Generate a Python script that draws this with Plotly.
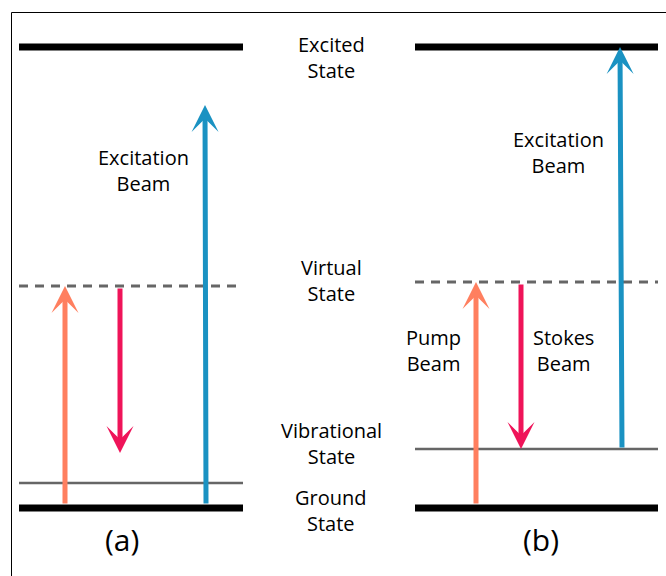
import plotly.graph_objects as go

# ---- data (pixel-like coordinate system: x 0..666, y 0..576 with y up) ----
panels = ["(a)", "(b)"]
panel_x0 = [19, 415]
panel_x1 = [243, 658]
ground_y = [68, 68]
vib_y = [93, 127]
virtual_y = [290, 294]
excited_y = [529, 529]

pump_x = [65, 476]
stokes_x = [120, 521]
stokes_tip_y = [123, 127]
exc_x_tail = [206, 622]
exc_x_tip = [205, 620]
exc_tip_y = [471, 529]

level_labels = ["Excited<br>State", "Virtual<br>State", "Vibrational<br>State", "Ground<br>State"]
level_label_y = [519, 296, 133, 66]

beam_texts = ["Excitation<br>Beam", "Excitation<br>Beam", "Pump<br>Beam", "Stokes<br>Beam"]
beam_text_x = [143, 558, 433, 563]
beam_text_y = [406, 424, 226, 226]

ORANGE = "#FF7F5F"
PINK = "#EF1459"
BLUE = "#1A92C2"
FONT = "Open Sans"

fig = go.Figure()

for i in range(2):
    xs = [panel_x0[i], panel_x1[i]]
    fig.add_trace(go.Scatter(x=xs, y=[excited_y[i]] * 2, mode="lines",
                             line=dict(color="black", width=7), hoverinfo="skip"))
    fig.add_trace(go.Scatter(x=xs, y=[ground_y[i]] * 2, mode="lines",
                             line=dict(color="black", width=7), hoverinfo="skip"))
    fig.add_trace(go.Scatter(x=xs, y=[virtual_y[i]] * 2, mode="lines",
                             line=dict(color="#666666", width=3, dash="9px,7px"), hoverinfo="skip"))
    fig.add_trace(go.Scatter(x=xs, y=[vib_y[i]] * 2, mode="lines",
                             line=dict(color="#666666", width=2.5), hoverinfo="skip"))

annotations = []
def arrow(x0, y0, x1, y1, color):
    annotations.append(dict(x=x1, y=y1, ax=x0, ay=y0, xref="x", yref="y", axref="x", ayref="y",
                            text="", showarrow=True, arrowhead=3, arrowsize=0.9, arrowwidth=5,
                            arrowcolor=color, standoff=0, startstandoff=0))

# panel a
arrow(pump_x[0], ground_y[0] + 3, pump_x[0], virtual_y[0], ORANGE)
arrow(stokes_x[0], virtual_y[0] - 1, stokes_x[0], stokes_tip_y[0], PINK)
arrow(exc_x_tail[0], ground_y[0] + 3, exc_x_tip[0], exc_tip_y[0], BLUE)
# panel b
arrow(pump_x[1], ground_y[1] + 3, pump_x[1], virtual_y[1], ORANGE)
arrow(stokes_x[1], virtual_y[1] - 1, stokes_x[1], stokes_tip_y[1], PINK)
arrow(exc_x_tail[1], vib_y[1], exc_x_tip[1], exc_tip_y[1], BLUE)

for t, y in zip(level_labels, level_label_y):
    annotations.append(dict(x=331, y=y, xref="x", yref="y", text=t, showarrow=False,
                            font=dict(family=FONT, size=20, color="black"), align="center",
                            xanchor="center", yanchor="middle"))
for t, x, y in zip(beam_texts, beam_text_x, beam_text_y):
    annotations.append(dict(x=x, y=y, xref="x", yref="y", text=t, showarrow=False,
                            font=dict(family=FONT, size=20, color="black"), align="center",
                            xanchor="center", yanchor="middle"))
for t, x in zip(panels, [122, 541]):
    annotations.append(dict(x=x, y=37, xref="x", yref="y", text=t, showarrow=False,
                            font=dict(family=FONT, size=30, color="black"),
                            xanchor="center", yanchor="middle"))

fig.update_layout(
    width=666, height=576,
    margin=dict(l=0, r=0, t=0, b=0),
    paper_bgcolor="white", plot_bgcolor="white",
    showlegend=False,
    xaxis=dict(range=[0, 666], visible=False, fixedrange=True),
    yaxis=dict(range=[0, 576], visible=False, fixedrange=True),
    annotations=annotations,
    shapes=[dict(type="rect", xref="x", yref="y", x0=11.5, y0=-5, x1=680, y1=563.5,
                 line=dict(color="black", width=1), layer="above")],
)

fig.write_html("out.html")
